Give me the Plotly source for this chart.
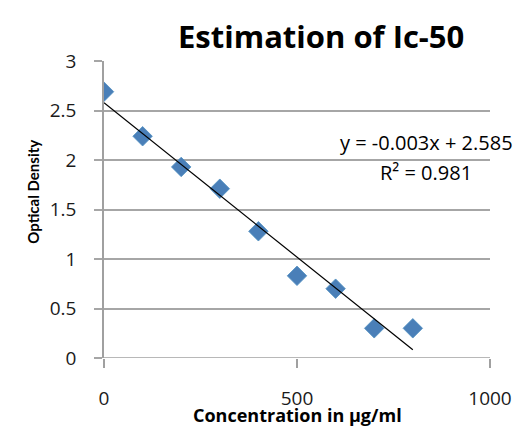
import numpy as np
import plotly.graph_objects as go

concentration = [0, 100, 200, 300, 400, 500, 600, 700, 800]
optical_density = [2.69, 2.24, 1.93, 1.71, 1.28, 0.83, 0.70, 0.30, 0.30]
x_ticks = [0, 500, 1000]
y_ticks = [0, 0.5, 1, 1.5, 2, 2.5, 3]
title_text = "Estimation of Ic-50"
x_title = "Concentration in μg/ml"
y_title = "Optical Density"
eq_text = "y = -0.003x + 2.585"
r2_text = "R² = 0.981"

slope, intercept = np.polyfit(concentration, optical_density, 1)
fit_x = [concentration[0], concentration[-1]]
fit_y = [slope * v + intercept for v in fit_x]

FONT = "Open Sans"
fig = go.Figure()
fig.add_trace(go.Scatter(
    x=concentration, y=optical_density, mode="markers",
    marker=dict(symbol="diamond", size=15, color="#4a7fb8",
                line=dict(color="#4f8fc0", width=0.8)),
    showlegend=False))
fig.add_trace(go.Scatter(
    x=fit_x, y=fit_y, mode="lines",
    line=dict(color="black", width=1.2), showlegend=False))

fig.update_layout(
    width=524, height=426,
    margin=dict(l=104, r=31, t=61, b=68),
    paper_bgcolor="white", plot_bgcolor="white",
    font=dict(family=FONT, color="black"),
    xaxis=dict(range=[0, 1000], tickvals=x_ticks, showgrid=False,
               zeroline=False, showline=False,
               ticks="outside", ticklen=9, tickcolor="#a0a0a0", tickwidth=1.5,
               tickfont=dict(size=19, family=FONT, color="#1a1a1a"),
               ticklabelstandoff=14),
    yaxis=dict(range=[0, 3], tickvals=y_ticks, showgrid=True,
               gridcolor="#a6a6a6", gridwidth=1.5, zeroline=False,
               showline=True, linecolor="#a0a0a0", linewidth=1.5,
               ticks="outside", ticklen=8, tickcolor="#a6a6a6", tickwidth=1.5,
               tickfont=dict(size=19, family=FONT, color="#1a1a1a"),
               ticklabelstandoff=14),
    shapes=[dict(type="line", xref="paper", yref="y", x0=0, x1=1, y0=0, y1=0,
                 line=dict(color="#a0a0a0", width=1.5))],
    annotations=[
        dict(text="<b>" + title_text + "</b>", xref="paper", yref="paper",
             x=0.563, y=1.084, yanchor="middle", showarrow=False,
             font=dict(size=31, family=FONT)),
        dict(text="<b>" + x_title + "</b>", xref="paper", yref="paper",
             x=0.5, y=-0.192, yanchor="middle", showarrow=False,
             font=dict(size=18, family=FONT)),
        dict(text="<b>" + y_title + "</b>", xref="paper", yref="paper",
             x=-0.213, y=0.559, textangle=-90, showarrow=False,
             font=dict(size=15, family="Lato")),
        dict(text=eq_text, xref="paper", yref="paper", x=1.064,
             xanchor="right", y=0.724, yanchor="middle", showarrow=False,
             font=dict(size=20, family=FONT)),
        dict(text=r2_text, xref="paper", yref="paper", x=0.833,
             xanchor="center", y=0.623, yanchor="middle", showarrow=False,
             font=dict(size=20, family=FONT)),
    ],
)
fig.write_html("out.html")
